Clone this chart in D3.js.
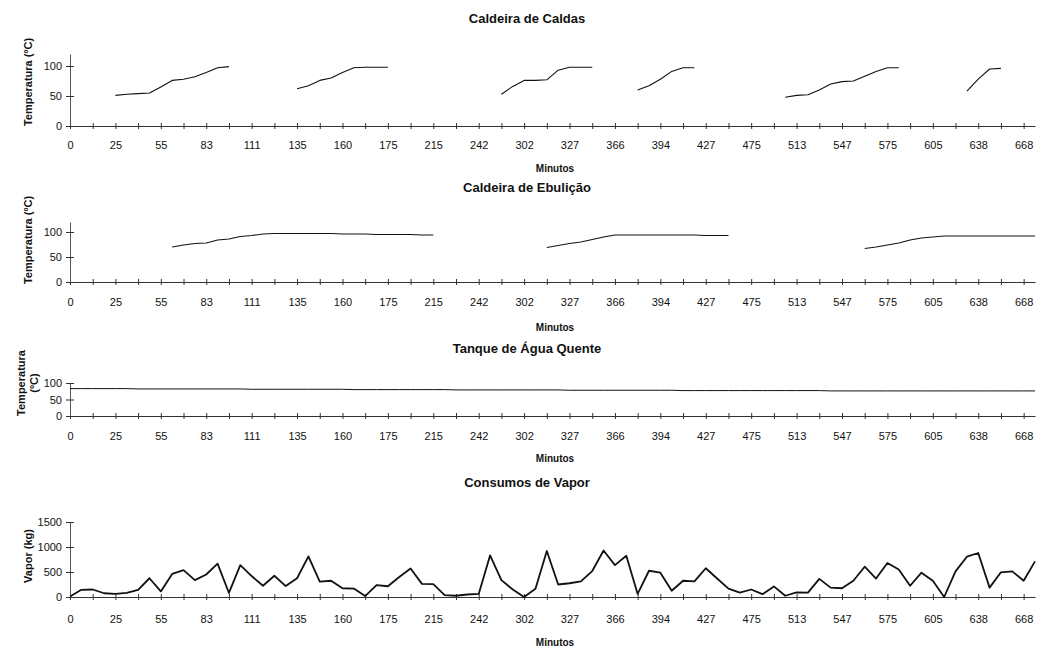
<!DOCTYPE html>
<html>
<head>
<meta charset="utf-8">
<script src="https://cdnjs.cloudflare.com/ajax/libs/d3/7.8.5/d3.min.js"></script>
<style>
  body { margin: 0; background: #fff; }
  text { font-family: "Liberation Sans", Arial, sans-serif; fill: #111; }
</style>
</head>
<body>
<div class="canvas"></div>
<script>
// x tick labels (minutes), one every 4 samples
const minutos = ['0', '25', '55', '83', '111', '135', '160', '175', '215', '242', '302',
    '327', '366', '394', '427', '475', '513', '547', '575', '605', '638', '668']

const caldas = [
    null, null, null, null,
    51, 53, 54, 55, 65, 76, 78, 82, 89, 97, 99,
    null, null, null, null, null,
    62, 67, 76, 80, 89, 97, 98, 98, 98,
    null, null, null, null, null, null, null, null, null,
    53, 66, 76, 76, 77, 93, 98, 98, 98,
    null, null, null,
    60, 67, 78, 91, 97, 97,
    null, null, null, null, null, null, null,
    48, 51, 52, 60, 70, 74, 75, 83, 91, 97, 97,
    null, null, null, null, null,
    58, 78, 95, 96,
    null, null, null
]

const ebulicao = [
    null, null, null, null, null, null, null, null, null,
    70, 74, 77, 78, 84, 86, 91, 93, 96, 97, 97, 97, 97, 97, 97, 96, 96, 96, 95, 95, 95, 95, 94, 94,
    null, null, null, null, null, null, null, null, null,
    69, 73, 77, 80, 85, 90, 94, 94, 94, 94, 94, 94, 94, 94, 93, 93, 93,
    null, null, null, null, null, null, null, null, null, null, null,
    67, 70, 74, 78, 84, 88, 90, 92, 92, 92, 92, 92, 92, 92, 92, 92
]

const tanque = [
    83, 83, 83, 83, 83, 83, 82, 82, 82, 82,
    82, 82, 82, 82, 82, 82, 81, 81, 81, 81,
    81, 81, 81, 81, 81, 80, 80, 80, 80, 80,
    80, 80, 80, 80, 79, 79, 79, 79, 79, 79,
    79, 79, 79, 79, 78, 78, 78, 78, 78, 78,
    78, 78, 78, 78, 77, 77, 77, 77, 77, 77,
    77, 77, 77, 77, 77, 77, 77, 76, 76, 76,
    76, 76, 76, 76, 76, 76, 76, 76, 76, 76,
    76, 76, 76, 76, 76, 76
]

const vapor = [
    10, 144, 150, 75, 62, 81, 144, 375, 112, 462,
    537, 337, 450, 668, 81, 637, 419, 225, 425, 219,
    375, 812, 306, 325, 175, 169, 19, 237, 215,
    400, 569, 262, 256, 37, 25, 50, 62, 831, 337,
    150, 0, 165, 920, 250, 275, 312, 519, 930, 637,
    825, 62, 525, 487, 125, 325, 312, 575, 370,
    169, 87, 150, 56, 212, 25, 94, 87, 362, 187,
    175, 325, 606, 369, 681, 550, 225, 487, 325, 0,
    512, 806, 880, 187, 494, 512, 325, 712
]

const panels = [
    { title: 'Caldeira de Caldas', ylabel: ['Temperatura (ºC)'], data: caldas, top: 54, bottom: 126, max: 120, ticks: [0, 50, 100], titleY: 18, labY: 82, lw: 1.1, pad: 12, minY: 168 },
    { title: 'Caldeira de Ebulição', ylabel: ['Temperatura (ºC)'], data: ebulicao, top: 222, bottom: 282, max: 120, ticks: [0, 50, 100], titleY: 187, labY: 240, lw: 1.1, pad: 13, minY: 327 },
    { title: 'Tanque de Água Quente', ylabel: ['Temperatura', '(ºC)'], data: tanque, top: 383, bottom: 416, max: 100, ticks: [0, 50, 100], titleY: 348, labY: 383, lw: 1, pad: 13, minY: 458 },
    { title: 'Consumos de Vapor', ylabel: ['Vapor (kg)'], data: vapor, top: 522, bottom: 597, max: 1500, ticks: [0, 500, 1000, 1500], titleY: 482, labY: 556, lw: 1.8, pad: 15, minY: 642 }
]

const svg = d3.select('.canvas').append('svg').attr('width', 1039).attr('height', 649)

const x = d3.scalePoint()
    .domain(d3.range(vapor.length))
    .range([70, 1035])

panels.forEach(p => {
    const y = d3.scaleLinear().domain([0, p.max]).range([p.bottom, p.top])

    svg.append('text')
        .attr('x', 527).attr('y', p.titleY).attr('dy', '0.35em')
        .attr('text-anchor', 'middle')
        .style('font-size', '13px').style('font-weight', 'bold')
        .text(p.title)

    // y axis title (rotated)
    const yl = svg.append('text')
        .attr('transform', `translate(${p.ylabel.length > 1 ? 26 : 28}, ${p.labY}) rotate(-90)`)
        .attr('text-anchor', 'middle')
        .style('font-size', '11px').style('font-weight', 'bold')
    p.ylabel.forEach((t, i) => {
        yl.append('tspan').attr('x', 0)
            .attr('dy', i === 0 ? (p.ylabel.length > 1 ? '-0.1em' : '0.35em') : '1.2em')
            .text(t)
    })

    const xAxis = d3.axisBottom(x)
        .tickValues(x.domain().filter(i => i % 2 === 0))
        .tickFormat(i => i % 4 === 0 ? minutos[i / 4] : '')
        .tickSize(3).tickSizeOuter(0).tickPadding(p.pad)

    const yAxis = d3.axisLeft(y)
        .tickValues(p.ticks)
        .tickFormat(d3.format('d'))
        .tickSize(4).tickSizeOuter(0).tickPadding(4)

    const gx = svg.append('g').attr('transform', `translate(0, ${p.bottom})`).call(xAxis)
    const gy = svg.append('g').attr('transform', 'translate(70, 0)').call(yAxis)

    // crossing "+" tick marks
    gx.selectAll('.tick line').attr('y1', -3).attr('y2', 3).attr('stroke', '#333')
    gy.selectAll('.tick line').attr('x1', -4).attr('x2', 4).attr('stroke', '#333')
    gx.select('.domain').attr('stroke', '#333')
    gy.select('.domain').attr('stroke', '#555')
    gx.selectAll('text').style('font-size', '11px').attr('fill', '#111')
    gy.selectAll('text').style('font-size', '11px').attr('fill', '#111')

    svg.append('text')
        .attr('x', 555).attr('y', p.minY).attr('dy', '0.35em')
        .attr('text-anchor', 'middle')
        .style('font-size', '10px').style('font-weight', 'bold')
        .text('Minutos')

    const line = d3.line()
        .defined(d => d != null)
        .x((d, i) => x(i))
        .y(d => y(d))

    svg.append('path')
        .datum(p.data)
        .attr('d', line)
        .attr('fill', 'none')
        .attr('stroke', '#111')
        .attr('stroke-width', p.lw)
        .attr('stroke-linejoin', 'round')
})
</script>
</body>
</html>
